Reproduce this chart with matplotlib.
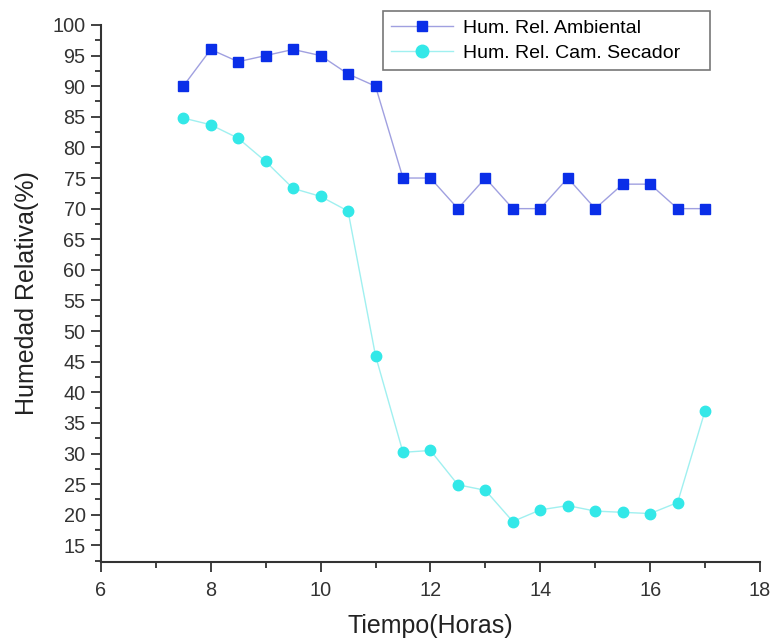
import numpy as np
import matplotlib
matplotlib.use("Agg")
import matplotlib.pyplot as plt
from matplotlib.ticker import MultipleLocator

plt.rcParams["font.family"] = ["Liberation Sans", "DejaVu Sans"]

# Tiempo (horas)
tiempo = [7.5, 8, 8.5, 9, 9.5, 10, 10.5, 11, 11.5, 12,
          12.5, 13, 13.5, 14, 14.5, 15, 15.5, 16, 16.5, 17]
hum_ambiental = [90, 96, 94, 95, 96, 95, 92, 90, 75, 75,
                 70, 75, 70, 70, 75, 70, 74, 74, 70, 70]
hum_secador = [84.8, 83.7, 81.5, 77.7, 73.3, 72.0, 69.6, 46.0, 30.2, 30.5,
               24.9, 24.0, 18.9, 20.8, 21.5, 20.6, 20.4, 20.2, 22.0, 37.0]

fig = plt.figure(figsize=(7.7, 6.4), dpi=100)
ax = fig.add_axes([0.131, 0.122, 0.856, 0.839])

ax.plot(tiempo, hum_ambiental, "-", color="#a0a0e0", linewidth=1.0,
        marker="s", markersize=6.5, markerfacecolor="#0a2ee8",
        markeredgecolor="#0a2ee8", label="Hum. Rel. Ambiental")
ax.plot(tiempo, hum_secador, "-", color="#a0f0f0", linewidth=1.0,
        marker="o", markersize=7.5, markerfacecolor="#33e8e8",
        markeredgecolor="#33e8e8", label="Hum. Rel. Cam. Secador")

ax.set_xlim(6, 18)
ax.set_ylim(12.3, 100)
ax.xaxis.set_major_locator(MultipleLocator(2))
ax.xaxis.set_minor_locator(MultipleLocator(1))
ax.yaxis.set_minor_locator(MultipleLocator(2.5))
ax.set_yticks(np.arange(15, 101, 5))

for side in ("top", "right"):
    ax.spines[side].set_visible(False)
for side in ("left", "bottom"):
    ax.spines[side].set_color("#333333")
    ax.spines[side].set_linewidth(1.5)

ax.tick_params(which="major", direction="out", length=7, width=1.3,
               colors="#333333", labelsize=14.3, pad=4)
ax.tick_params(which="minor", direction="out", length=4, width=1.3,
               colors="#333333")
ax.tick_params(axis="x", pad=7)

ax.set_xlabel("Tiempo(Horas)", fontsize=18, color="#222222", labelpad=10)
ax.set_ylabel("Humedad Relativa(%)", fontsize=18, color="#222222", labelpad=10)

# legend box spans the same region as in the original figure
leg = ax.legend(loc="upper left",
                bbox_to_anchor=(383 / 770, 1 - 69 / 640, 327 / 770, 58 / 640),
                bbox_transform=fig.transFigure, mode="expand",
                borderaxespad=0, fontsize=14, markerscale=1.2,
                frameon=True, fancybox=False, handlelength=3.2,
                borderpad=0.41, labelspacing=0.41, handletextpad=0.5)
leg.get_frame().set_edgecolor("#555555")
leg.get_frame().set_linewidth(1.2)

fig.savefig("out.png", dpi=100)
